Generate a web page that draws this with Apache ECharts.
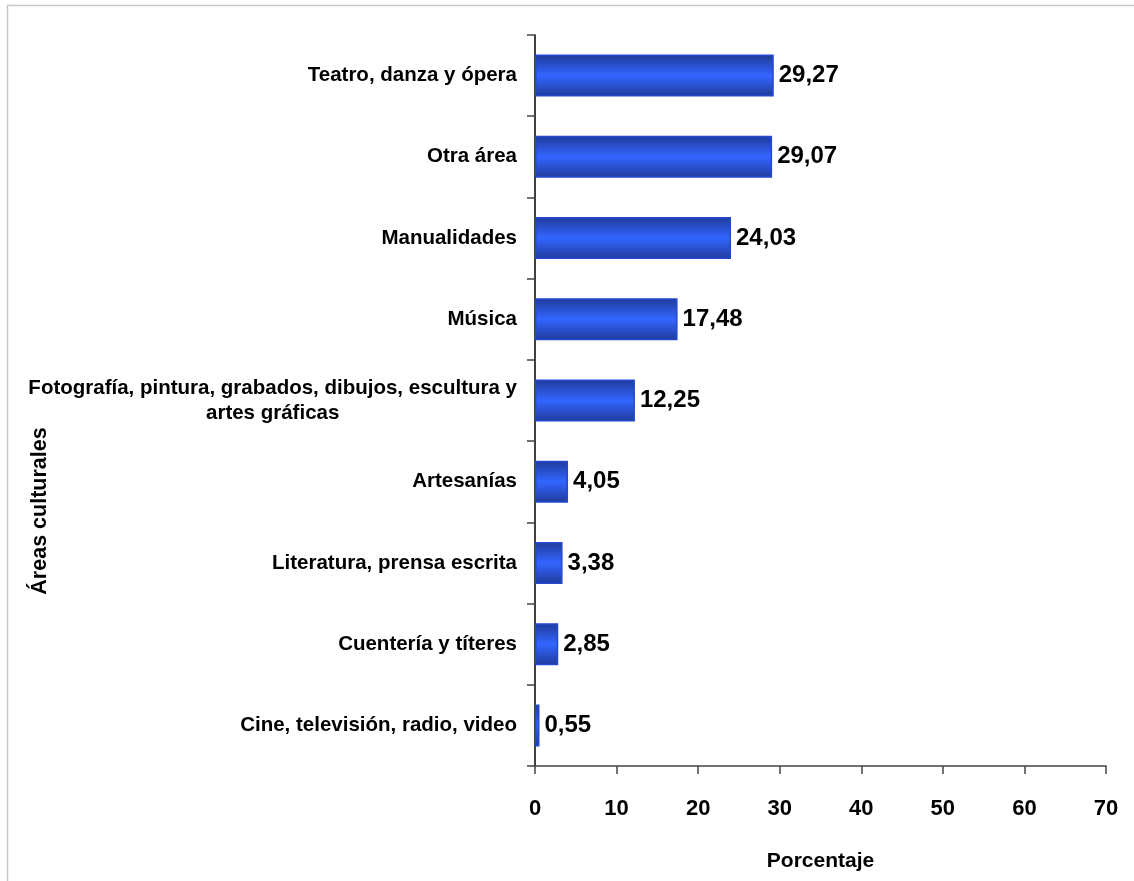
<!DOCTYPE html>
<html>
<head>
<meta charset="utf-8">
<script src="https://cdn.jsdelivr.net/npm/echarts@6/dist/echarts.min.js"></script>
<style>
    html, body { margin: 0; padding: 0; background: #fff; }
    #grafico { width: 1134px; height: 881px; }
</style>
</head>
<body>
<div id="grafico"></div>
<script type="text/javascript">
    // areas culturales, de abajo hacia arriba
    var areas = [
        'Cine, televisión, radio, video',
        'Cuentería y títeres',
        'Literatura, prensa escrita',
        'Artesanías',
        'Fotografía, pintura, grabados, dibujos, escultura y\nartes gráficas',
        'Música',
        'Manualidades',
        'Otra área',
        'Teatro, danza y ópera'
    ];
    var porcentajes = [0.55, 2.85, 3.38, 4.05, 12.25, 17.48, 24.03, 29.07, 29.27];
    var ejeX = [0, 10, 20, 30, 40, 50, 60, 70];

    var fuente = 'Liberation Sans, Arial, sans-serif';
    var myChart = echarts.init(document.getElementById('grafico'));

    var option = {
        backgroundColor: '#fff',
        animation: false,
        grid: { left: 535, right: 28, top: 35, bottom: 115, containLabel: false },
        graphic: [
            {
                type: 'rect',
                shape: { x: 7.5, y: 5.5, width: 1140, height: 890 },
                style: { fill: 'none', stroke: '#c8c8c8', lineWidth: 1.5 }
            },
            {
                type: 'text',
                x: 40, y: 511,
                rotation: Math.PI / 2,
                style: {
                    text: 'Áreas culturales',
                    font: 'bold 21.5px ' + fuente,
                    fill: '#000',
                    align: 'center',
                    verticalAlign: 'middle'
                }
            }
        ],
        xAxis: {
            type: 'value',
            min: ejeX[0],
            max: ejeX[ejeX.length - 1],
            interval: 10,
            name: 'Porcentaje',
            nameLocation: 'middle',
            nameGap: 85,
            nameTextStyle: { fontFamily: fuente, fontWeight: 'bold', fontSize: 21, color: '#000' },
            axisLine: { show: true, lineStyle: { color: '#444', width: 1.5 } },
            axisTick: { show: true, length: 8, lineStyle: { color: '#444', width: 1.5 } },
            axisLabel: { margin: 32, fontFamily: fuente, fontWeight: 'bold', fontSize: 22, color: '#000' },
            splitLine: { show: false }
        },
        yAxis: {
            type: 'category',
            data: areas,
            axisLine: { show: true, lineStyle: { color: '#000', width: 1.5 } },
            axisTick: { show: true, length: 8, lineStyle: { color: '#444', width: 1.5 } },
            axisLabel: {
                margin: 18,
                fontFamily: fuente,
                fontWeight: 'bold',
                fontSize: 20.5,
                color: '#000',
                lineHeight: 25,
                formatter: function (v) {
                    var p = v.split('\n');
                    if (p.length > 1) {
                        return '{a|' + p[0] + '}\n{b|' + p[1] + '}';
                    }
                    return v;
                },
                rich: {
                    a: { fontFamily: fuente, fontWeight: 'bold', fontSize: 20.5, color: '#000', lineHeight: 25 },
                    b: { fontFamily: fuente, fontWeight: 'bold', fontSize: 20.5, color: '#000', lineHeight: 25, align: 'center' }
                }
            },
            splitLine: { show: false }
        },
        series: [{
            name: 'Porcentaje',
            type: 'bar',
            data: porcentajes,
            barWidth: 42,
            itemStyle: {
                color: {
                    type: 'linear', x: 0, y: 0, x2: 0, y2: 1,
                    colorStops: [
                        { offset: 0, color: '#1f3a9a' },
                        { offset: 0.5, color: '#3366ff' },
                        { offset: 1, color: '#1f3a9a' }
                    ]
                },
                borderColor: '#2448d0',
                borderWidth: 1.5
            },
            label: {
                show: true,
                position: 'right',
                distance: 5,
                fontFamily: fuente,
                fontWeight: 'bold',
                fontSize: 24,
                color: '#000',
                formatter: function (p) {
                    return p.value.toFixed(2).replace('.', ',');
                }
            }
        }]
    };
    myChart.setOption(option);
</script>
</body>
</html>
